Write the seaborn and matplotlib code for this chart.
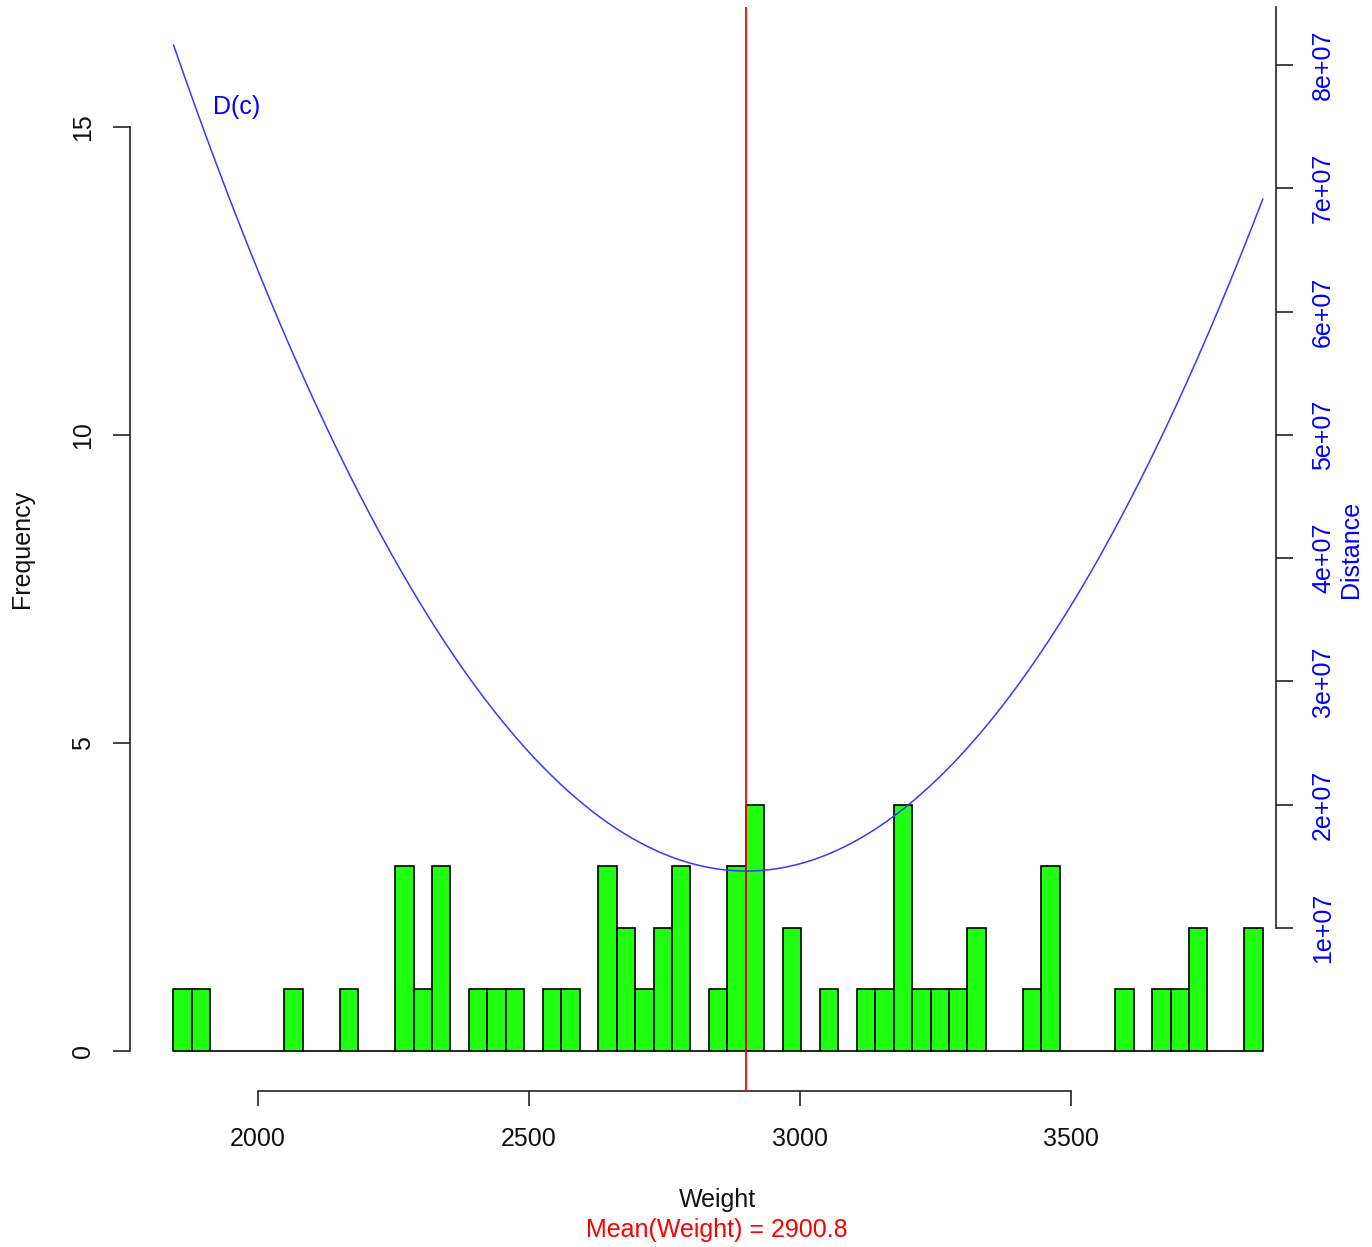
import numpy as np
import pandas as pd
import matplotlib
matplotlib.use("Agg")
import matplotlib.pyplot as plt
import seaborn as sns

# ---------------- data ----------------
bin_lo, bin_hi, n_bins = 1844.0, 3854.0, 59
counts = [1, 1, 0, 0, 0, 0, 1, 0, 0, 1,
          0, 0, 3, 1, 3, 0, 1, 1, 1, 0,
          1, 1, 0, 3, 2, 1, 2, 3, 0, 1,
          3, 4, 0, 2, 0, 1, 0, 1, 1, 4,
          1, 1, 1, 2, 0, 0, 1, 3, 0, 0,
          0, 1, 0, 1, 1, 2, 0, 0, 2]
mean_weight = 2900.8
d_min = 1.462e7            # minimum of D(c) = sum (w - c)^2, reached at the mean
x_ticks = [2000, 2500, 3000, 3500]
y_ticks = [0, 5, 10, 15]
d_ticks = [1e7, 2e7, 3e7, 4e7, 5e7, 6e7, 7e7, 8e7]
d_tick_labels = ["1e+07", "2e+07", "3e+07", "4e+07", "5e+07", "6e+07", "7e+07", "8e+07"]

edges = np.linspace(bin_lo, bin_hi, n_bins + 1)
centers = (edges[:-1] + edges[1:]) / 2
n_obs = sum(counts)
c_grid = np.linspace(bin_lo, bin_hi, 400)
D = d_min + n_obs * (c_grid - mean_weight) ** 2

hist_df = pd.DataFrame({"Weight": centers, "count": counts})
curve_df = pd.DataFrame({"c": c_grid, "D": D})

# ---------------- style ----------------
sns.set_theme(style="white")
plt.rcParams["font.family"] = ["Liberation Sans", "DejaVu Sans"]
FS = 18

W, H = 1372, 1247
fig = plt.figure(figsize=(W / 100, H / 100), dpi=100)
L, R, T, B = 130, 1276, 7, 1091
ax = fig.add_axes([L / W, 1 - B / H, (R - L) / W, (B - T) / H])

sns.histplot(data=hist_df, x="Weight", weights="count", bins=n_bins,
             binrange=(bin_lo, bin_hi), ax=ax,
             color="#20FF10", edgecolor="black", linewidth=1.2, alpha=1)
ax.set_xlim(1763.8, 3878.2)
ax.set_ylim(-0.649, 16.948)
ax.set_xlabel("")
ax.set_ylabel("")
ax.axvline(mean_weight, color="red", lw=1.3, zorder=5)

for s in ["top", "right"]:
    ax.spines[s].set_visible(False)
ax.spines["bottom"].set_bounds(x_ticks[0], x_ticks[-1])
ax.spines["left"].set_bounds(y_ticks[0], y_ticks[-1])
for s in ["bottom", "left"]:
    ax.spines[s].set_color("#222222")
    ax.spines[s].set_linewidth(1.2)
ax.set_xticks(x_ticks)
ax.set_yticks(y_ticks)
ax.set_xticklabels([str(v) for v in x_ticks], fontsize=FS, color="#111111")
ax.set_yticklabels([str(v) for v in y_ticks], fontsize=FS, color="#111111",
                   rotation=90, va="center")
ax.tick_params(axis="x", direction="out", length=10.8, width=1.2, pad=15,
               color="#222222", bottom=True)
ax.tick_params(axis="y", direction="out", length=12.2, width=1.2, pad=13,
               color="#222222", left=True)

ax2 = ax.twinx()
sns.lineplot(data=curve_df, x="c", y="D", ax=ax2, color="#3838FF", lw=1.1)
ax2.set_ylim(-0.322e7, 8.470e7)
ax2.set_xlim(ax.get_xlim())
ax2.set_xlabel("")
ax2.set_ylabel("")
for s in ["top", "left", "bottom"]:
    ax2.spines[s].set_visible(False)
ax2.spines["right"].set_bounds(d_ticks[0], 8.470e7)
ax2.spines["right"].set_color("#222222")
ax2.spines["right"].set_linewidth(1.2)
ax2.set_yticks(d_ticks)
ax2.set_yticklabels(d_tick_labels, fontsize=FS, color="blue", rotation=90, va="center")
ax2.tick_params(axis="y", direction="out", length=12.2, width=1.2, pad=13,
                color="#222222", right=True)
ax2.text(1917, 7.66e7, "D(c)", color="blue", fontsize=FS, ha="left", va="center")

fig.text(22 / W, 1 - 549 / H, "Frequency", fontsize=FS, rotation=90,
         ha="center", va="center", color="#111111")
fig.text(1351 / W, 1 - 549 / H, "Distance", fontsize=FS, rotation=90,
         ha="center", va="center", color="blue")
fig.text(717 / W, 1 - 1200 / H, "Weight", fontsize=FS, ha="center", va="center",
         color="#111111")
fig.text(717 / W, 1 - 1230 / H, "Mean(Weight) = 2900.8", fontsize=FS,
         ha="center", va="center", color="red")

fig.savefig("out.png", dpi=100, facecolor="white")
